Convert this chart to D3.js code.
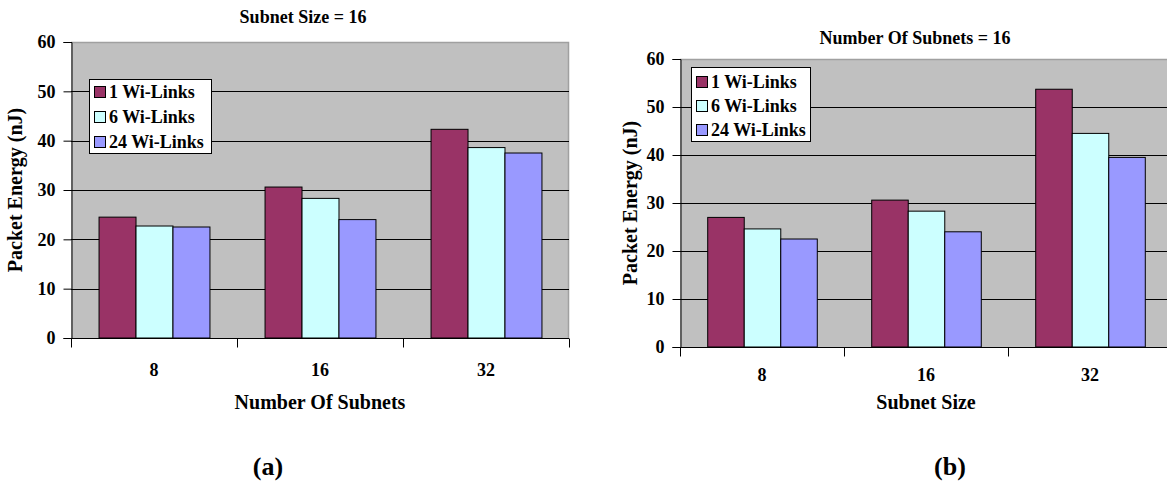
<!DOCTYPE html>
<html>
<head>
<meta charset="utf-8">
<script src="https://cdn.jsdelivr.net/npm/d3@7"></script>
<style>
  html, body { margin: 0; padding: 0; background: #fff; }
  svg text { font-family: "Liberation Serif", "Times New Roman", serif; font-weight: bold; fill: #000; }
</style>
</head>
<body>
<svg id="fig" width="1167" height="491"></svg>
<script>
// Packet energy per configuration, grouped by category, one series per Wi-Link count
const seriesNames = ["1 Wi-Links", "6 Wi-Links", "24 Wi-Links"];
const seriesColors = ["#993366", "#CCFFFF", "#9999FF"];
const yTicks = [0, 10, 20, 30, 40, 50, 60];

// (a) varying number of subnets, subnet size fixed at 16
const categoriesA = ["8", "16", "32"];
const oneLinkA = [24.5, 30.6, 42.3];
const sixLinksA = [22.7, 28.3, 38.6];
const twentyFourLinksA = [22.5, 24.0, 37.5];

// (b) varying subnet size, number of subnets fixed at 16
const categoriesB = ["8", "16", "32"];
const oneLinkB = [27.0, 30.6, 53.7];
const sixLinksB = [24.6, 28.3, 44.5];
const twentyFourLinksB = [22.5, 24.0, 39.5];

const svg = d3.select("#fig");
const FONT = "'Liberation Serif', 'Times New Roman', serif";

function label(sel, size) {
  return sel.attr("font-family", FONT).attr("font-weight", "bold").attr("font-size", size).attr("fill", "#000");
}

function drawPanel(cfg) {
  const g = svg.append("g");
  const x0 = d3.scaleBand().domain(cfg.categories).range([cfg.left, cfg.right]).padding(0);
  const x1 = d3.scaleBand().domain(seriesNames).range([0, x0.bandwidth()]).paddingInner(0).paddingOuter(0.745);
  const y = d3.scaleLinear().domain([0, 60]).range([cfg.bottom, cfg.top]);

  // plot background
  g.append("rect")
    .attr("x", cfg.left).attr("y", cfg.top)
    .attr("width", cfg.right - cfg.left).attr("height", cfg.bottom - cfg.top)
    .attr("fill", "#C0C0C0").attr("stroke", "none");
  // light frame on top and right edges
  g.append("path")
    .attr("d", `M${cfg.left},${cfg.top + 0.5}H${cfg.right - 0.5}V${cfg.bottom}`)
    .attr("fill", "none").attr("stroke", "#A0A0A0").attr("stroke-width", 1.5);

  // horizontal gridlines
  g.selectAll(".grid").data(yTicks.filter(t => t > 0 && t < 60)).join("line")
    .attr("x1", cfg.left).attr("x2", cfg.right)
    .attr("y1", d => Math.round(y(d)) + 0.5).attr("y2", d => Math.round(y(d)) + 0.5)
    .attr("stroke", "#000").attr("stroke-width", 1);

  // bars
  const rows = cfg.categories.map((c, i) => ({ cat: c, vals: cfg.values.map(v => v[i]) }));
  const groups = g.selectAll(".grp").data(rows).join("g")
    .attr("transform", d => `translate(${x0(d.cat)},0)`);
  groups.selectAll("rect").data(d => d.vals.map((v, k) => ({ name: seriesNames[k], v, k })))
    .join("rect")
    .attr("x", d => x1(d.name) + 0.5)
    .attr("y", d => y(d.v))
    .attr("width", x1.bandwidth())
    .attr("height", d => y(0) - y(d.v))
    .attr("fill", d => seriesColors[d.k])
    .attr("stroke", "#000").attr("stroke-width", 1);

  // y axis
  const yAxis = d3.axisLeft(y).tickValues(yTicks).tickSize(8).tickPadding(8).tickFormat(d3.format("d"));
  const ya = g.append("g").attr("transform", `translate(${cfg.left + 0.5},0)`).call(yAxis)
    .attr("font-family", FONT);
  ya.select(".domain").attr("stroke", "#000");
  ya.selectAll(".tick line").attr("stroke", "#000");
  label(ya.selectAll("text"), cfg.tickSize);

  // x axis: ticks on category boundaries
  const xAxis = d3.axisBottom(x0).tickSize(0).tickPadding(cfg.xPad);
  const xa = g.append("g").attr("transform", `translate(0,${cfg.bottom + 0.5})`).call(xAxis)
    .attr("font-family", FONT);
  xa.select(".domain").attr("d", `M${cfg.left},0H${cfg.right}`).attr("stroke", "#000");
  label(xa.selectAll("text"), cfg.tickSize);
  const bounds = cfg.categories.map(c => x0(c)).concat([cfg.right]);
  xa.selectAll(".bound").data(bounds).join("line")
    .attr("x1", d => Math.round(d) + 0.5).attr("x2", d => Math.round(d) + 0.5)
    .attr("y1", 0).attr("y2", 9).attr("stroke", "#000");

  // titles
  label(g.append("text"), cfg.titleSize).attr("x", cfg.titleX).attr("y", cfg.titleY)
    .attr("text-anchor", "middle").text(cfg.title);
  label(g.append("text"), cfg.axisTitleSize).attr("x", (cfg.left + cfg.right) / 2).attr("y", cfg.xTitleY)
    .attr("text-anchor", "middle").text(cfg.xTitle);
  label(g.append("text"), cfg.axisTitleSize)
    .attr("transform", `translate(${cfg.yTitleX},${(cfg.top + cfg.bottom) / 2}) rotate(-90)`)
    .attr("text-anchor", "middle").text("Packet Energy (nJ)");

  // legend
  const lg = g.append("g").attr("transform", `translate(${cfg.legX},${cfg.legY})`);
  lg.append("rect").attr("x", 0.5).attr("y", 0.5).attr("width", cfg.legW).attr("height", cfg.legH)
    .attr("fill", "#fff").attr("stroke", "#000");
  seriesNames.forEach((s, k) => {
    const cy = cfg.legRow0 + k * cfg.legStep;
    lg.append("rect").attr("x", 5.5).attr("y", cy - 5.5).attr("width", 11).attr("height", 11)
      .attr("fill", seriesColors[k]).attr("stroke", "#000");
    label(lg.append("text"), cfg.legSize).attr("x", 20).attr("y", cy + 6).text(s);
  });

  // panel label
  label(g.append("text"), 26).attr("x", cfg.labelX).attr("y", 475)
    .attr("text-anchor", "middle").text(cfg.label);
}

drawPanel({
  categories: categoriesA, values: [oneLinkA, sixLinksA, twentyFourLinksA],
  left: 71, right: 569, top: 42, bottom: 338,
  title: "Subnet Size = 16", titleX: 303, titleY: 23, titleSize: 18,
  xTitle: "Number Of Subnets", xTitleY: 409, yTitleX: 22, axisTitleSize: 20,
  tickSize: 18, xPad: 25,
  legX: 89, legY: 79, legW: 122, legH: 74, legRow0: 13, legStep: 25, legSize: 18,
  label: "(a)", labelX: 268
});

drawPanel({
  categories: categoriesB, values: [oneLinkB, sixLinksB, twentyFourLinksB],
  left: 680, right: 1172, top: 59, bottom: 347,
  title: "Number Of Subnets = 16", titleX: 915, titleY: 44, titleSize: 18,
  xTitle: "Subnet Size", xTitleY: 409, yTitleX: 637, axisTitleSize: 20,
  tickSize: 18, xPad: 21,
  legX: 691, legY: 67, legW: 119, legH: 74, legRow0: 15, legStep: 24, legSize: 18,
  label: "(b)", labelX: 950
});
</script>
</body>
</html>
